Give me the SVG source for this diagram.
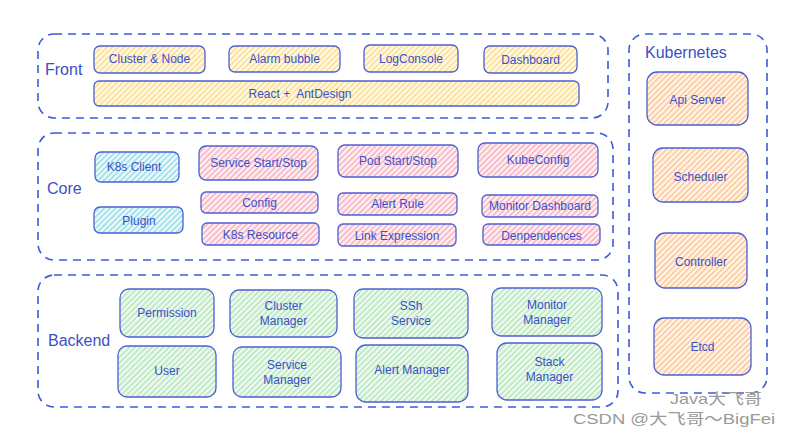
<svg xmlns="http://www.w3.org/2000/svg" width="791" height="437" viewBox="0 0 791 437">
<defs>
<pattern id="hy" patternUnits="userSpaceOnUse" width="4" height="4" patternTransform="rotate(45)"><rect width="4" height="4" fill="#fffbe8"/><line x1="1" y1="0" x2="1" y2="4" stroke="#f7c95a" stroke-width="1"/></pattern>
<pattern id="hp" patternUnits="userSpaceOnUse" width="4" height="4" patternTransform="rotate(45)"><rect width="4" height="4" fill="#fff2f4"/><line x1="1" y1="0" x2="1" y2="4" stroke="#f08aa0" stroke-width="1"/></pattern>
<pattern id="ht" patternUnits="userSpaceOnUse" width="4" height="4" patternTransform="rotate(45)"><rect width="4" height="4" fill="#effbfc"/><line x1="1" y1="0" x2="1" y2="4" stroke="#5fcad8" stroke-width="1"/></pattern>
<pattern id="hg" patternUnits="userSpaceOnUse" width="4" height="4" patternTransform="rotate(45)"><rect width="4" height="4" fill="#f1fbf2"/><line x1="1" y1="0" x2="1" y2="4" stroke="#8fd79a" stroke-width="1"/></pattern>
<pattern id="ho" patternUnits="userSpaceOnUse" width="4" height="4" patternTransform="rotate(45)"><rect width="4" height="4" fill="#fff6ec"/><line x1="1" y1="0" x2="1" y2="4" stroke="#f9a862" stroke-width="1"/></pattern>
</defs>
<style>
.grp{fill:none;stroke:#3b5bdb;stroke-width:1.6;stroke-dasharray:8 6}
.n{stroke:#4c5fd5;stroke-width:1.3}
.y{fill:url(#hy)}.p{fill:url(#hp)}.t{fill:url(#ht)}.g{fill:url(#hg)}.o{fill:url(#ho)}
text{font-family:"Liberation Sans",Arial,sans-serif;fill:#3b4fc8;text-anchor:middle;dominant-baseline:central}
.lbl{font-size:12px}
.gl{font-size:16px;text-anchor:start}
.wm{fill:#9a9a9a;font-family:"Liberation Sans","Noto Sans CJK SC",sans-serif;text-anchor:start;dominant-baseline:alphabetic}
</style>
<rect x="0" y="0" width="791" height="437" fill="#ffffff"/>
<g id="groups">
<rect id="front-group" class="grp" x="38" y="34" width="570" height="84" rx="16"/>
<rect id="core-group" class="grp" x="38" y="133" width="575" height="127" rx="16"/>
<rect id="backend-group" class="grp" x="38" y="275" width="580" height="132" rx="16"/>
<rect id="kubernetes-group" class="grp" x="629" y="34" width="138" height="359" rx="16"/>
<text class="gl" x="45" y="69">Front</text>
<text class="gl" x="47" y="188">Core</text>
<text class="gl" x="48" y="340">Backend</text>
<text class="gl" x="645" y="52">Kubernetes</text>
</g>
<g id="connectors"/>
<g id="n-cluster-node"><rect class="n y" x="94" y="46" width="111" height="27" rx="6"/><text class="lbl" x="149.5" y="59">Cluster &amp; Node</text></g>
<g id="n-alarm-bubble"><rect class="n y" x="229" y="46" width="111" height="26" rx="6"/><text class="lbl" x="284.5" y="59">Alarm bubble</text></g>
<g id="n-logconsole"><rect class="n y" x="364" y="45" width="94" height="27" rx="6"/><text class="lbl" x="411" y="59">LogConsole</text></g>
<g id="n-dashboard"><rect class="n y" x="484" y="46" width="93" height="27" rx="6"/><text class="lbl" x="530.5" y="60">Dashboard</text></g>
<g id="n-react"><rect class="n y" x="94" y="81" width="485" height="25" rx="5"/><text class="lbl" x="300" y="94" style="white-space:pre">React +  AntDesign</text></g>

<g id="n-k8s-client"><rect class="n t" x="95" y="152" width="84" height="30" rx="6"/><text class="lbl" x="134" y="167">K8s Client</text></g>
<g id="n-plugin"><rect class="n t" x="94" y="207" width="89" height="26" rx="6"/><text class="lbl" x="139" y="221">Plugin</text></g>
<g id="n-service-start"><rect class="n p" x="199" y="146" width="119" height="34" rx="7"/><text class="lbl" x="258.5" y="163">Service Start/Stop</text></g>
<g id="n-config"><rect class="n p" x="201" y="192" width="117" height="21" rx="5"/><text class="lbl" x="259.5" y="203">Config</text></g>
<g id="n-k8s-resource"><rect class="n p" x="202" y="223" width="117" height="22" rx="5"/><text class="lbl" x="260.5" y="235">K8s Resource</text></g>
<g id="n-pod-start"><rect class="n p" x="338" y="145" width="120" height="32" rx="7"/><text class="lbl" x="398" y="161">Pod Start/Stop</text></g>
<g id="n-alert-rule"><rect class="n p" x="338" y="193" width="119" height="22" rx="5"/><text class="lbl" x="397.5" y="204">Alert Rule</text></g>
<g id="n-link-expression"><rect class="n p" x="338" y="224" width="118" height="22" rx="5"/><text class="lbl" x="397" y="236">Link Expression</text></g>
<g id="n-kubeconfig"><rect class="n p" x="478" y="143" width="120" height="34" rx="7"/><text class="lbl" x="538" y="160">KubeConfig</text></g>
<g id="n-monitor-dashboard"><rect class="n p" x="482" y="195" width="116" height="22" rx="5"/><text class="lbl" x="540" y="206">Monitor Dashboard</text></g>
<g id="n-denpendences"><rect class="n p" x="483" y="224" width="117" height="21" rx="5"/><text class="lbl" x="541.5" y="236">Denpendences</text></g>

<g id="n-permission"><rect class="n g" x="120" y="289" width="94" height="48" rx="9"/><text class="lbl" x="167" y="313">Permission</text></g>
<g id="n-cluster-manager"><rect class="n g" x="230" y="290" width="107" height="47" rx="9"/><text class="lbl" x="283.5" y="306">Cluster</text><text class="lbl" x="283.5" y="321">Manager</text></g>
<g id="n-ssh-service"><rect class="n g" x="354" y="289" width="114" height="49" rx="9"/><text class="lbl" x="411" y="306">SSh</text><text class="lbl" x="411" y="321">Service</text></g>
<g id="n-monitor-manager"><rect class="n g" x="492" y="288" width="110" height="48" rx="9"/><text class="lbl" x="547" y="305">Monitor</text><text class="lbl" x="547" y="320">Manager</text></g>
<g id="n-user"><rect class="n g" x="118" y="346" width="98" height="51" rx="9"/><text class="lbl" x="167" y="371">User</text></g>
<g id="n-service-manager"><rect class="n g" x="233" y="347" width="108" height="50" rx="9"/><text class="lbl" x="287" y="365">Service</text><text class="lbl" x="287" y="380">Manager</text></g>
<g id="n-alert-manager"><rect class="n g" x="356" y="345" width="112" height="57" rx="10"/><text class="lbl" x="412" y="370">Alert Manager</text></g>
<g id="n-stack-manager"><rect class="n g" x="497" y="343" width="105" height="57" rx="10"/><text class="lbl" x="549.5" y="362">Stack</text><text class="lbl" x="549.5" y="377">Manager</text></g>

<g id="n-api-server"><rect class="n o" x="647" y="72" width="101" height="53" rx="10"/><text class="lbl" x="697.5" y="100">Api Server</text></g>
<g id="n-scheduler"><rect class="n o" x="653" y="148" width="95" height="54" rx="10"/><text class="lbl" x="700.5" y="177">Scheduler</text></g>
<g id="n-controller"><rect class="n o" x="655" y="233" width="92" height="55" rx="10"/><text class="lbl" x="701" y="262">Controller</text></g>
<g id="n-etcd"><rect class="n o" x="654" y="318" width="97" height="57" rx="10"/><text class="lbl" x="702.5" y="347">Etcd</text></g>

<g id="watermark">
<text class="wm" x="670" y="404" font-size="15" textLength="92" lengthAdjust="spacingAndGlyphs">Java大飞哥</text>
<text class="wm" x="573" y="424" font-size="15" textLength="202" lengthAdjust="spacingAndGlyphs">CSDN @大飞哥～BigFei</text>
</g>
</svg>
